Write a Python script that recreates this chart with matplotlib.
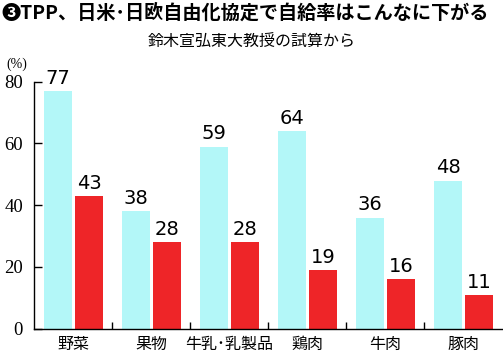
import numpy as np
import matplotlib
matplotlib.use("Agg")
import matplotlib.pyplot as plt

plt.rcParams['font.family'] = ['Noto Sans CJK JP', 'DejaVu Sans']

# data
categories = ["野菜", "果物", "牛乳･乳製品", "鶏肉", "牛肉", "豚肉"]
current = [77, 38, 59, 64, 36, 48]
after_ftas = [43, 28, 28, 19, 16, 11]
y_ticks = [0, 20, 40, 60, 80]

CYAN = "#b3f7f8"
RED = "#ee2528"

fig = plt.figure(figsize=(5.03, 3.56), dpi=100)
ax = fig.add_axes([34 / 503, 1 - 328.7 / 356, 468 / 503, 247 / 356])

x = np.arange(len(categories))
bw = 28 / 78
ax.bar(x + 24 / 78, current, width=bw, color=CYAN)
ax.bar(x + 55 / 78, after_ftas, width=bw, color=RED)

for xi, v in zip(x, current):
    ax.text(xi + 24 / 78, v + 1.0, str(v), ha='center', va='bottom',
            fontsize=14, family=['DejaVu Sans'])
for xi, v in zip(x, after_ftas):
    ax.text(xi + 55 / 78, v + 1.0, str(v), ha='center', va='bottom',
            fontsize=14, family=['DejaVu Sans'])

ax.set_xlim(0, len(categories))
ax.set_ylim(0, 80)
ax.set_yticks(y_ticks)
ax.set_yticklabels([str(t) for t in y_ticks], family=['Liberation Serif'], fontsize=13.5)
ax.tick_params(axis='y', direction='in', length=6, width=1, pad=8)

# group separators on the baseline
ax.set_xticks(np.arange(1, len(categories)))
ax.set_xticklabels([])
ax.tick_params(axis='x', direction='in', length=5, width=1)
for xi, name in zip(x, categories):
    ax.text(xi + 0.5, -5.0, name, ha='center', va='center', fontsize=11.5)

for s in ['top', 'right']:
    ax.spines[s].set_visible(False)
ax.spines['left'].set_linewidth(1)
ax.spines['bottom'].set_linewidth(1)

ax.text(-0.36, 83.5, "(%)", ha='left', va='bottom', fontsize=10, family=['Liberation Serif'])

fig.text(0.003, 0.99, "❸TPP、日米･日欧自由化協定で自給率はこんなに下がる",
         ha='left', va='top', fontsize=13.8, fontweight='bold',
         family=['Noto Sans CJK JP', 'DejaVu Sans'])
fig.text(0.5, 0.905, "鈴木宣弘東大教授の試算から", ha='center', va='top', fontsize=11.5)

fig.savefig("out.png", dpi=100)
